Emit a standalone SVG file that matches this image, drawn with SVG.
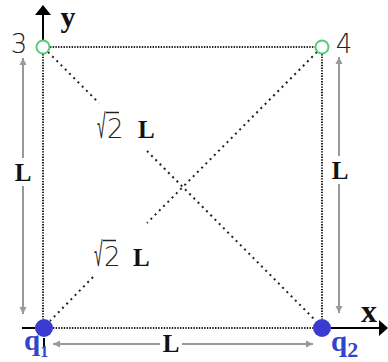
<svg xmlns="http://www.w3.org/2000/svg" width="388" height="362" viewBox="0 0 388 362">
<style>
.dot{stroke:#222;stroke-width:2;stroke-dasharray:1.4 1.3;fill:none}
.diag{stroke:#222;stroke-width:2;stroke-dasharray:2 4;fill:none}
.dim{stroke:#999;stroke-width:2;fill:none}
.axis{stroke:#000;stroke-width:2;fill:none}
.num{font-family:"DejaVu Sans","Liberation Sans",sans-serif;font-size:26px;fill:#222;font-weight:200}
.bs{font-family:"Liberation Serif","Times New Roman",serif;font-weight:bold;fill:#111}
.q{font-family:"Liberation Serif","Times New Roman",serif;font-weight:bold;fill:#3344cc}
.open{fill:#fff;stroke:#55cc77;stroke-width:2}
.full{fill:#3b3bd0}
.vin{stroke:#222;stroke-width:1.5}
</style>
<defs>
<marker id="ah" markerWidth="8" markerHeight="8" refX="7" refY="4" orient="auto" markerUnits="userSpaceOnUse">
<path d="M0,0.5 L7,4 L0,7.5 Z" fill="#999"/>
</marker>
</defs>
<rect width="388" height="362" fill="#fff"/>
<g id="connectors">
<line class="dot" x1="50" y1="47" x2="315" y2="47"/>
<line class="dot" x1="43" y1="54" x2="43" y2="319"/>
<line class="dot" x1="53" y1="328" x2="313" y2="328"/>
<line class="dot" x1="322" y1="54" x2="322" y2="319"/>
<line class="diag" x1="48" y1="52" x2="99" y2="103"/>
<line class="diag" x1="147" y1="151" x2="316" y2="321"/>
<line class="diag" x1="317" y1="52" x2="147" y2="223"/>
<line class="diag" x1="93" y1="277" x2="50" y2="321"/>
<line class="axis" x1="43" y1="14" x2="43" y2="40"/>
<polygon points="43,5 35,15 51,15" fill="#000"/>
<line class="axis" x1="331" y1="328" x2="380" y2="328"/>
<polygon points="388,328 379,320 379,336" fill="#000"/>
<line class="axis" x1="22" y1="328" x2="35" y2="328"/>
<line class="axis" x1="44" y1="338" x2="44" y2="347"/>
<line class="dim" x1="23" y1="158" x2="23" y2="58" marker-end="url(#ah)"/>
<line class="dim" x1="23" y1="186" x2="23" y2="314" marker-end="url(#ah)"/>
<line class="dim" x1="339" y1="156" x2="339" y2="57" marker-end="url(#ah)"/>
<line class="dim" x1="339" y1="184" x2="339" y2="313" marker-end="url(#ah)"/>
<line class="dim" x1="160" y1="344" x2="53" y2="344" marker-end="url(#ah)"/>
<line class="dim" x1="182" y1="344" x2="313" y2="344" marker-end="url(#ah)"/>
</g>
<g id="n3"><circle class="open" cx="43" cy="47" r="6.5"/><text class="num" x="19" y="53" text-anchor="middle">3</text></g>
<g id="n4"><circle class="open" cx="322" cy="47" r="6.5"/><text class="num" x="344" y="53" text-anchor="middle">4</text></g>
<g id="q1"><circle class="full" cx="44" cy="328" r="9"/><text class="q" x="24" y="350" font-size="29">q<tspan font-size="16" dy="7">1</tspan></text></g>
<g id="q2"><circle class="full" cx="322" cy="328" r="9"/><text class="q" x="331" y="351" font-size="29">q<tspan font-size="22" dy="6">2</tspan></text></g>
<g id="labels">
<text class="bs" x="68" y="27" font-size="30" text-anchor="middle">y</text>
<text class="bs" x="369" y="322" font-size="32" text-anchor="middle">x</text>
<text class="bs" x="23" y="181" font-size="25" text-anchor="middle">L</text>
<text class="bs" x="340" y="179" font-size="25" text-anchor="middle">L</text>
<text class="bs" x="171" y="352" font-size="25" text-anchor="middle">L</text>
<text class="num" font-size="25" transform="translate(97,138) scale(0.6,1.3)">√</text>
<text class="num" x="107" y="138" font-size="25">2</text>
<line class="vin" x1="106" y1="112.5" x2="119" y2="112.5"/>
<text class="bs" x="138" y="138" font-size="25">L</text>
<text class="num" font-size="25" transform="translate(94,266) scale(0.6,1.3)">√</text>
<text class="num" x="104" y="266" font-size="25">2</text>
<line class="vin" x1="103" y1="240.5" x2="116" y2="240.5"/>
<text class="bs" x="133" y="266" font-size="25">L</text>
</g>
</svg>
